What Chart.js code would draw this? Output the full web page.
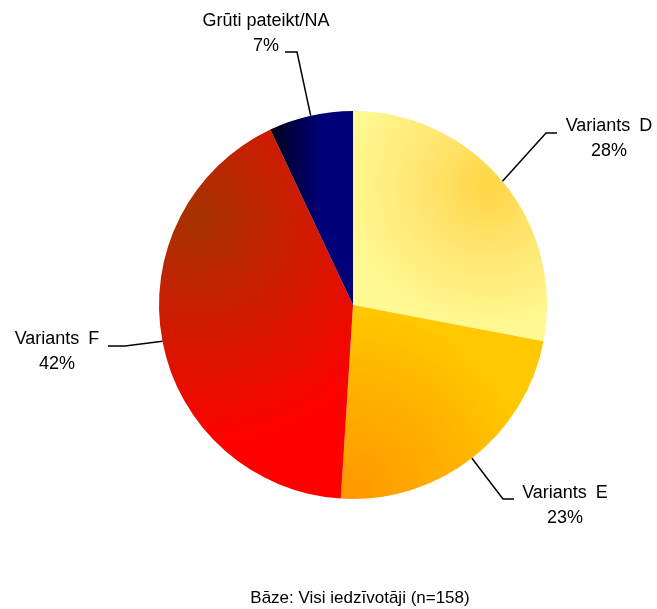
<!DOCTYPE html>
<html>
<head>
<meta charset="utf-8">
<script src="https://cdn.jsdelivr.net/npm/chart.js@4/dist/chart.umd.min.js"></script>
<style>
  html, body { margin: 0; padding: 0; background: #fff; }
  #wrap { width: 657px; height: 609px; }
</style>
</head>
<body>
<div id="wrap"><canvas id="pie" width="657" height="609"></canvas></div>
<script>
// data
const categories = ["Variants D", "Variants E", "Variants F", "Grūti pateikt/NA"];
const percents = [28, 23, 42, 7];
const baseNote = "Bāze: Visi iedzīvotāji (n=158)";

// where each label sits (elbow of the leader line, end of it, text centre, gap between words)
const labelLayout = [
  { elbow: [546, 133], end: [557, 133], text: [609, 126], gap: "4px" },
  { elbow: [503, 499], end: [514, 499], text: [565, 493], gap: "4px" },
  { elbow: [125, 346], end: [108, 346], text: [57, 339], gap: "4px" },
  { elbow: [297, 52], end: [285, 52], text: [266, 21], gap: "0px" }
];

const flatColors = ["#FFF38A", "#FFB400", "#E01E00", "#000070"];

/* gradient fill per slice, built from the chart area */
function sliceFill(context) {
  const chart = context.chart;
  const area = chart.chartArea;
  const i = context.dataIndex;
  if (!area) return flatColors[i];
  const ctx = chart.ctx;
  const cx = (area.left + area.right) / 2;
  const cy = (area.top + area.bottom) / 2;
  const r = Math.min(area.right - area.left, area.bottom - area.top) / 2;
  let g;
  switch (i) {
    case 0:
      g = ctx.createRadialGradient(cx + 0.70 * r, cy - 0.62 * r, 0, cx + 0.70 * r, cy - 0.62 * r, 0.78 * r);
      g.addColorStop(0, "#FFD545");
      g.addColorStop(0.45, "#FFE671");
      g.addColorStop(1, "#FFFA94");
      return g;
    case 1:
      g = ctx.createRadialGradient(cx - 0.02 * r, cy + 0.98 * r, 0, cx - 0.02 * r, cy + 0.98 * r, 0.95 * r);
      g.addColorStop(0, "#FF9800");
      g.addColorStop(0.55, "#FFB000");
      g.addColorStop(1, "#FFC800");
      return g;
    case 2:
      g = ctx.createRadialGradient(cx - 0.81 * r, cy - 0.46 * r, 0, cx - 0.81 * r, cy - 0.46 * r, 1.2 * r);
      g.addColorStop(0, "#A43300");
      g.addColorStop(1, "#FF0000");
      return g;
    default:
      g = ctx.createLinearGradient(cx - 0.43 * r, 0, cx - 0.17 * r, 0);
      g.addColorStop(0, "#000018");
      g.addColorStop(1, "#000078");
      return g;
  }
}

/* leader lines, labels and the base note */
const calloutPlugin = {
  id: "callouts",
  afterDraw(chart) {
    const ctx = chart.ctx;
    const arcs = chart.getDatasetMeta(0).data;
    const hasGap = "wordSpacing" in ctx;
    ctx.save();
    ctx.strokeStyle = "#000";
    ctx.lineWidth = 1.5;
    ctx.fillStyle = "#000";
    ctx.font = "18px 'Liberation Sans', Arial, sans-serif";
    ctx.textAlign = "center";
    ctx.textBaseline = "middle";
    arcs.forEach(function (arc, i) {
      const p = arc.getProps(["x", "y", "startAngle", "endAngle", "outerRadius"], true);
      const mid = (p.startAngle + p.endAngle) / 2;
      const ax = p.x + Math.cos(mid) * p.outerRadius;
      const ay = p.y + Math.sin(mid) * p.outerRadius;
      const lay = labelLayout[i];
      ctx.beginPath();
      ctx.moveTo(ax, ay);
      ctx.lineTo(lay.elbow[0], lay.elbow[1]);
      ctx.lineTo(lay.end[0], lay.end[1]);
      ctx.stroke();
      if (hasGap) ctx.wordSpacing = lay.gap;
      ctx.fillText(categories[i], lay.text[0], lay.text[1]);
      ctx.fillText(percents[i] + "%", lay.text[0], lay.text[1] + 25);
    });
    if (hasGap) ctx.wordSpacing = "0px";
    ctx.font = "17px 'Liberation Sans', Arial, sans-serif";
    ctx.fillText(baseNote, 360, 598);
    ctx.restore();
  }
};

new Chart(document.getElementById("pie"), {
  type: "pie",
  data: {
    labels: categories,
    datasets: [
      {
        data: percents,
        backgroundColor: sliceFill,
        borderWidth: 0
      }
    ]
  },
  options: {
    responsive: false,
    animation: false,
    layout: { padding: { left: 159, right: 110, top: 111, bottom: 110 } },
    plugins: {
      legend: { display: false },
      tooltip: { enabled: false },
      title: { display: false }
    }
  },
  plugins: [calloutPlugin]
});
</script>
</body>
</html>
